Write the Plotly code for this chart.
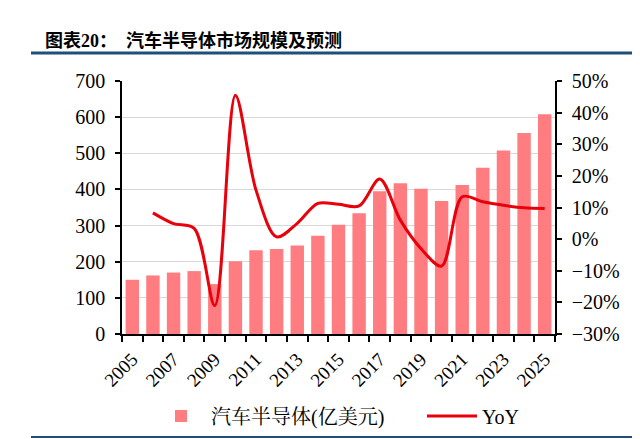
import plotly.graph_objects as go

years = list(range(2005, 2026))
market = [150, 162, 170, 174, 138, 201, 232, 235, 245, 272, 302, 334,
          395, 417, 402, 368, 412, 460, 508, 556, 608]
yoy_years = list(range(2006, 2026))
yoy = [0.083, 0.049, 0.034, -0.21, 0.455, 0.155, 0.007, 0.05, 0.113, 0.11,
       0.105, 0.19, 0.06, -0.03, -0.085, 0.134, 0.118, 0.107, 0.099, 0.097]
label_years = list(range(2005, 2026, 2))
title_text = "图表20：  汽车半导体市场规模及预测"
bar_name = "汽车半导体(亿美元)"
line_name = "YoY"

SERIF = "Liberation Serif, Times New Roman, Noto Serif CJK SC, Noto Sans CJK SC, serif"

fig = go.Figure()
fig.add_trace(go.Bar(x=years, y=market, name=bar_name, marker_color="#FF7C80",
                     marker_line_width=0, yaxis="y", legend="legend"))
fig.add_trace(go.Scatter(x=yoy_years, y=yoy, name=line_name, mode="lines",
                         line=dict(color="#E8000B", width=3, shape="spline", smoothing=0.9),
                         yaxis="y2", legend="legend2"))

# page body has an 8px default margin; work in viewport pixels and shift
OFF = 8
W, H = 640, 439
PL, PR, PT, PB = 122, 555, 81, 334  # plot area in viewport pixels
L, T = PL - OFF, PT - OFF
R = W - (PR - OFF)
B = H - (PB - OFF)
pw, ph = PR - PL, PB - PT

def px_x(p):
    return (p - PL) / pw

def px_y(p):
    return (PB - p) / ph

legend_common = dict(orientation="h", xanchor="left", yanchor="middle", y=px_y(416),
                     font=dict(family=SERIF, size=20, color="black"),
                     itemwidth=50, bgcolor="rgba(0,0,0,0)")

fig.update_layout(
    width=W, height=H,
    margin=dict(l=L, r=R, t=T, b=B, autoexpand=False),
    paper_bgcolor="white", plot_bgcolor="white",
    bargap=0.35,
    font=dict(family=SERIF, size=19, color="black"),
    showlegend=True,
    legend=dict(x=px_x(151), **legend_common),
    legend2=dict(x=px_x(422), **legend_common),
    xaxis=dict(range=[2004.5, 2025.5], tickvals=label_years, ticktext=[str(y) for y in label_years],
               tickangle=-45, ticks="", showline=True, linecolor="black", linewidth=1.5,
               showgrid=False, zeroline=False, automargin=False, ticklabelstandoff=5,
               tickfont=dict(family=SERIF, size=19),
               minor=dict(tickvals=[y - 0.5 for y in years] + [2025.5], ticks="outside",
                          ticklen=6, tickwidth=1.5, tickcolor="black", showgrid=False)),
    yaxis=dict(range=[0, 700], dtick=100, showline=True, linecolor="black", linewidth=1.5,
               ticks="outside", ticklen=5, tickwidth=1.5, tickcolor="black",
               showgrid=True, gridcolor="#D9D9D9", gridwidth=1, zeroline=False, automargin=False,
               tickfont=dict(family=SERIF, size=20), ticklabelstandoff=6),
    yaxis2=dict(range=[-0.3, 0.5], dtick=0.1, tickformat=".0%", overlaying="y", side="right",
                showline=True, linecolor="black", linewidth=1.5,
                ticks="outside", ticklen=5, tickwidth=1.5, tickcolor="black",
                showgrid=False, zeroline=False, automargin=False,
                tickfont=dict(family=SERIF, size=20), ticklabelstandoff=6),
    annotations=[dict(text="<b>" + title_text + "</b>", xref="paper", yref="paper",
                      x=px_x(43), y=px_y(40), xanchor="left", yanchor="middle", showarrow=False,
                      font=dict(family="Liberation Serif, Noto Sans CJK SC", size=18, color="black"))],
    shapes=[
        dict(type="line", xref="paper", yref="paper", x0=px_x(31), x1=px_x(650),
             y0=px_y(53), y1=px_y(53), line=dict(color="#1F4E79", width=3)),
        dict(type="line", xref="paper", yref="paper", x0=px_x(31), x1=px_x(650),
             y0=px_y(437), y1=px_y(437), line=dict(color="#1F4E79", width=2)),
    ],
)

fig.write_html("out.html")
